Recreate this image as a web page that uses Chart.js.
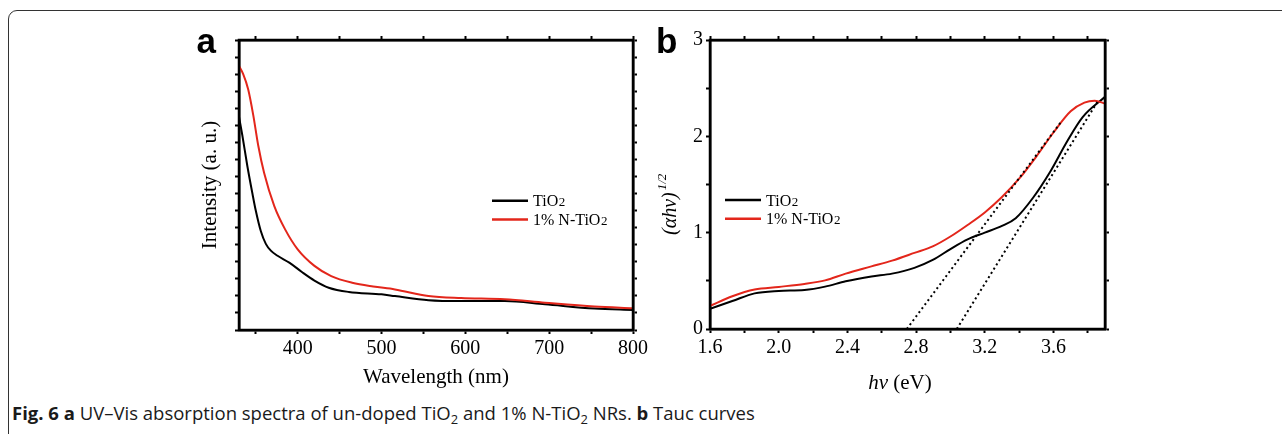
<!DOCTYPE html>
<html>
<head>
<meta charset="utf-8">
<script src="https://cdn.jsdelivr.net/npm/chart.js@4.4.1/dist/chart.umd.min.js"></script>
<style>
body { margin:0; background:#fff; width:1282px; height:434px; overflow:hidden; position:relative; }
#frame { position:absolute; left:8px; top:10px; width:1300px; height:460px; border:1.5px solid #333; border-radius:9px; }
#chartA { position:absolute; left:160px; top:0; }
#chartB { position:absolute; left:630px; top:0; }
#caption { position:absolute; left:12px; top:400px; font-family:"Open Sans"; font-size:18.5px; color:#1a1a1a; white-space:nowrap; }
#caption sub { font-size:0.7em; vertical-align:-0.3em; line-height:0; }
</style>
</head>
<body>
<div id="frame"></div>
<canvas id="chartA" width="500" height="400"></canvas>
<canvas id="chartB" width="520" height="400"></canvas>
<div id="caption"><b>Fig. 6</b> <b>a</b> UV–Vis absorption spectra of un-doped TiO<sub>2</sub> and 1% N-TiO<sub>2</sub> NRs. <b>b</b> Tauc curves</div>
<script>
// panel a: UV-Vis absorption
var wavelengthTiO2 = [330, 334, 340, 346, 350, 356, 362, 368, 376, 390, 405, 420, 437, 461, 500, 516, 556, 595, 647, 695, 754, 800];
var intensityTiO2 = [1.25, 1.14, 0.96, 0.80, 0.70, 0.58, 0.505, 0.465, 0.435, 0.395, 0.34, 0.29, 0.248, 0.223, 0.209, 0.199, 0.175, 0.170, 0.170, 0.151, 0.126, 0.117];
var wavelengthNTiO2 = [330, 335, 341, 347, 353, 360, 372, 385, 400, 420, 440, 465, 490, 516, 556, 595, 647, 695, 754, 800];
var intensityNTiO2 = [1.548, 1.50, 1.41, 1.26, 1.08, 0.92, 0.728, 0.590, 0.473, 0.376, 0.316, 0.277, 0.255, 0.238, 0.199, 0.187, 0.180, 0.160, 0.138, 0.128];
var wavelengthTicks = [400, 500, 600, 700, 800];

// panel b: Tauc plot
var energyTiO2 = [1.6, 1.73, 1.86, 2.0, 2.15, 2.27, 2.39, 2.54, 2.66, 2.79, 2.9, 3.0, 3.1, 3.2, 3.3, 3.38, 3.48, 3.58, 3.68, 3.77, 3.9];
var taucTiO2 = [0.21, 0.29, 0.37, 0.395, 0.405, 0.44, 0.495, 0.545, 0.575, 0.635, 0.72, 0.83, 0.93, 1.0, 1.07, 1.15, 1.36, 1.63, 1.95, 2.2, 2.41];
var energyNTiO2 = [1.6, 1.73, 1.86, 2.0, 2.15, 2.27, 2.39, 2.54, 2.66, 2.79, 2.9, 3.0, 3.1, 3.2, 3.3, 3.4, 3.5, 3.6, 3.7, 3.78, 3.84, 3.9];
var taucNTiO2 = [0.24, 0.34, 0.41, 0.437, 0.468, 0.505, 0.575, 0.65, 0.71, 0.79, 0.86, 0.96, 1.08, 1.21, 1.37, 1.56, 1.79, 2.04, 2.26, 2.35, 2.37, 2.34];
// linear fits down to the band gap
var fitNTiO2X = [2.746, 3.64];
var fitNTiO2Y = [0, 2.14];
var fitTiO2X = [3.037, 3.86];
var fitTiO2Y = [0, 2.37];
var energyTicks = [1.6, 2.0, 2.4, 2.8, 3.2, 3.6];
var taucTicks = [0, 1, 2, 3];

var RED = '#e3261b';
var SERIF = '"Liberation Serif", "Times New Roman", serif';

function toPoints(xs, ys) {
    return xs.map(function (x, i) { return { x: x, y: ys[i] }; });
}

// every side of the box gets its own scale so ticks show all round
function makeAxis(axisName, position, min, max, step, labelValues, size, fmt) {
    return {
        type: 'linear',
        axis: axisName,
        position: position,
        min: min,
        max: max,
        afterFit: function (scale) {
            if (axisName === 'x') scale.height = size; else scale.width = size;
        },
        border: { color: '#000', width: 2.5 },
        grid: { drawOnChartArea: false, tickLength: 4, tickWidth: 2, tickColor: '#000' },
        ticks: {
            stepSize: step,
            includeBounds: false,
            autoSkip: false,
            maxRotation: 0,
            padding: 3,
            color: '#000',
            font: { family: SERIF, size: 20 },
            callback: function (value) {
                for (var i = 0; i < labelValues.length; i++) {
                    if (Math.abs(labelValues[i] - value) < 1e-6) return fmt(labelValues[i]);
                }
                return '';
            }
        }
    };
}

function curve(points, color, order) {
    return {
        data: points,
        borderColor: color,
        borderWidth: 2,
        pointRadius: 0,
        cubicInterpolationMode: 'monotone',
        order: order
    };
}

function textWithSub(ctx, main, sub, x, y, size) {
    ctx.font = size + 'px ' + SERIF;
    ctx.fillText(main, x, y);
    var w = ctx.measureText(main).width;
    ctx.font = Math.round(size * 0.82) + 'px ' + SERIF;
    ctx.fillText(sub, x + w + 0.5, y);
}

function drawLegend(ctx, x, y) {
    var rows = [['#000', 'TiO', '2'], [RED, '1% N-TiO', '2']];
    ctx.save();
    ctx.lineWidth = 2.5;
    ctx.fillStyle = '#000';
    ctx.textAlign = 'left';
    ctx.textBaseline = 'alphabetic';
    rows.forEach(function (r, i) {
        var ry = y + i * 18.8;
        ctx.strokeStyle = r[0];
        ctx.beginPath();
        ctx.moveTo(x, ry);
        ctx.lineTo(x + 36, ry);
        ctx.stroke();
        textWithSub(ctx, r[1], r[2], x + 41, ry + 5.5, 16);
    });
    ctx.restore();
}

function frame(ctx, area) {
    ctx.save();
    ctx.strokeStyle = '#000';
    ctx.lineWidth = 2.5;
    ctx.strokeRect(area.left, area.top, area.right - area.left, area.bottom - area.top);
    ctx.restore();
}

var common = {
    responsive: false,
    animation: false,
    layout: { padding: 0 },
    plugins: { legend: { display: false }, tooltip: { enabled: false } }
};

new Chart(document.getElementById('chartA'), {
    type: 'line',
    data: {
        datasets: [
            curve(toPoints(wavelengthTiO2, intensityTiO2), '#000', 1),
            curve(toPoints(wavelengthNTiO2, intensityNTiO2), RED, 0)
        ]
    },
    options: Object.assign({}, common, {
        scales: {
            x: makeAxis('x', 'bottom', 330, 800, 50, wavelengthTicks, 70, String),
            x2: makeAxis('x', 'top', 330, 800, 50, [], 40, String),
            y: makeAxis('y', 'left', 0, 1.7, 0.1, [], 79, String),
            y2: makeAxis('y', 'right', 0, 1.7, 0.1, [], 27, String)
        }
    }),
    plugins: [{
        id: 'panelA',
        afterDraw: function (chart) {
            var ctx = chart.ctx, a = chart.chartArea;
            frame(ctx, a);
            ctx.save();
            ctx.fillStyle = '#000';
            ctx.font = 'bold 35px "Liberation Sans", Arial, sans-serif';
            ctx.textAlign = 'left';
            ctx.fillText('a', a.left - 42.5, 53);
            ctx.font = '21px ' + SERIF;
            ctx.textAlign = 'center';
            ctx.fillText('Wavelength (nm)', (a.left + a.right) / 2, 383);
            ctx.translate(a.left - 23, (a.top + a.bottom) / 2);
            ctx.rotate(-Math.PI / 2);
            ctx.fillText('Intensity (a. u.)', 0, 0);
            ctx.restore();
            drawLegend(ctx, a.left + 253, 200.7);
        }
    }]
});

new Chart(document.getElementById('chartB'), {
    type: 'line',
    data: {
        datasets: [
            curve(toPoints(energyTiO2, taucTiO2), '#000', 1),
            curve(toPoints(energyNTiO2, taucNTiO2), RED, 0),
            { data: toPoints(fitNTiO2X, fitNTiO2Y), borderColor: '#000', borderWidth: 2, borderDash: [2, 3], pointRadius: 0, order: -1 },
            { data: toPoints(fitTiO2X, fitTiO2Y), borderColor: '#000', borderWidth: 2, borderDash: [2, 3], pointRadius: 0, order: -1 }
        ]
    },
    options: Object.assign({}, common, {
        scales: {
            x: makeAxis('x', 'bottom', 1.6, 3.9, 0.2, energyTicks, 71, function (v) { return v.toFixed(1); }),
            x2: makeAxis('x', 'top', 1.6, 3.9, 0.2, [], 40, String),
            y: makeAxis('y', 'left', 0, 3, 0.5, taucTicks, 80, String),
            y2: makeAxis('y', 'right', 0, 3, 0.5, [], 45, String)
        }
    }),
    plugins: [{
        id: 'panelB',
        afterDraw: function (chart) {
            var ctx = chart.ctx, a = chart.chartArea;
            frame(ctx, a);
            ctx.save();
            ctx.fillStyle = '#000';
            ctx.font = 'bold 35px "Liberation Sans", Arial, sans-serif';
            ctx.textAlign = 'left';
            ctx.fillText('b', a.left - 54, 53);

            // hν (eV)
            ctx.font = 'italic 21px ' + SERIF;
            var w1 = ctx.measureText('hν').width;
            ctx.font = '21px ' + SERIF;
            var w2 = ctx.measureText(' (eV)').width;
            var sx = 900 - 630 - (w1 + w2) / 2;
            ctx.font = 'italic 21px ' + SERIF;
            ctx.fillText('hν', sx, 389);
            ctx.font = '21px ' + SERIF;
            ctx.fillText(' (eV)', sx + w1, 389);

            // (αhν)^1/2, rotated
            ctx.translate(a.left - 34, 235);
            ctx.rotate(-Math.PI / 2);
            ctx.font = 'italic 20px ' + SERIF;
            ctx.fillText('(αhν)', 0, 0);
            var w = ctx.measureText('(αhν)').width;
            ctx.font = 'italic 13px ' + SERIF;
            ctx.fillText('1/2', w + 2, -10);
            ctx.restore();
            drawLegend(ctx, a.left + 15, 200);
        }
    }]
});
</script>
</body>
</html>
